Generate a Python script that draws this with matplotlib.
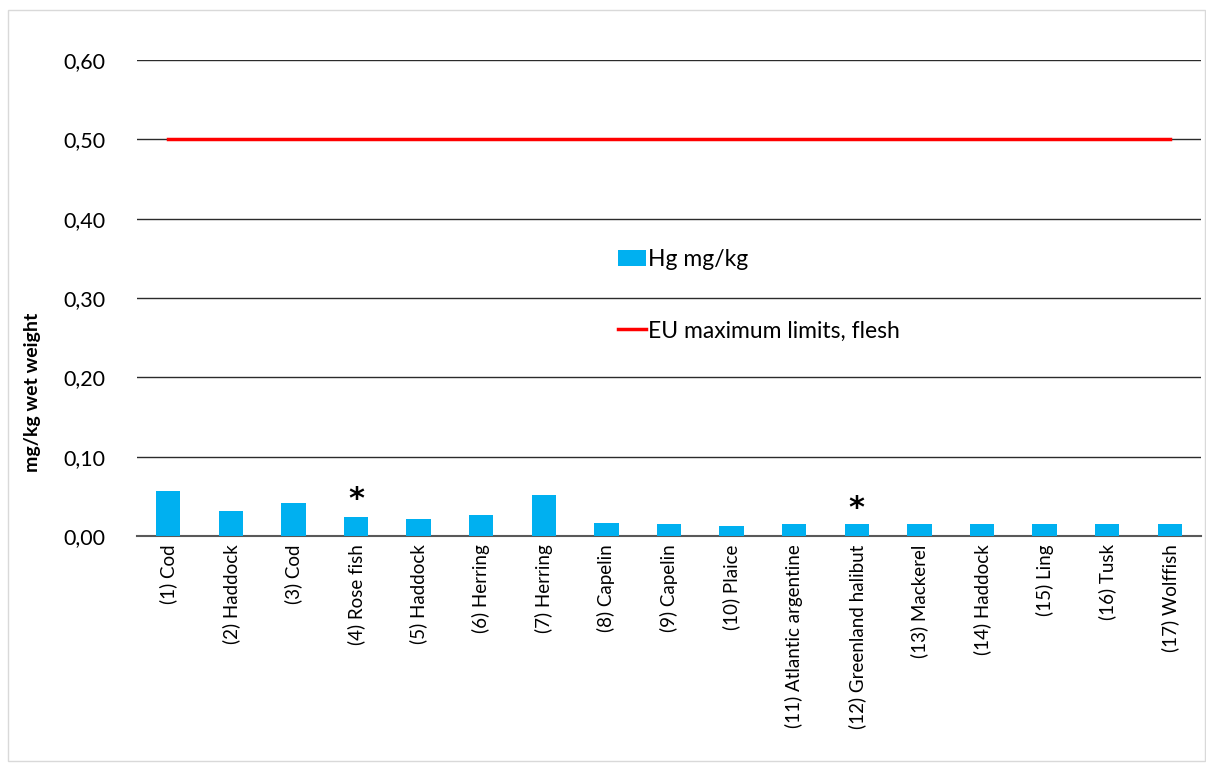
import matplotlib
matplotlib.use("Agg")
import matplotlib.pyplot as plt
from matplotlib.patches import Rectangle
from matplotlib.ticker import FuncFormatter

plt.rcParams['font.family'] = ['Lato', 'DejaVu Sans']

categories = ["(1) Cod", "(2) Haddock", "(3) Cod", "(4) Rose fish", "(5) Haddock",
              "(6) Herring", "(7) Herring", "(8) Capelin", "(9) Capelin", "(10) Plaice",
              "(11) Atlantic argentine", "(12) Greenland halibut", "(13) Mackerel",
              "(14) Haddock", "(15) Ling", "(16) Tusk", "(17) Wolffish"]
hg_values = [0.057, 0.032, 0.042, 0.024, 0.022, 0.027, 0.052, 0.016, 0.015, 0.012,
             0.015, 0.015, 0.015, 0.015, 0.015, 0.015, 0.015]
eu_limit = [0.50] * len(categories)
asterisk_idx = [3, 11]
asterisk_y = [0.046, 0.035]
yticks = [0.0, 0.1, 0.2, 0.3, 0.4, 0.5, 0.6]

W, H = 1206, 769
fig = plt.figure(figsize=(W / 100, H / 100), dpi=100)
fig.patches.append(Rectangle((8 / W, 1 - 761 / H), (1205 - 8) / W, (761 - 10) / H,
                             transform=fig.transFigure, fill=False,
                             edgecolor='#d9d9d9', linewidth=1))
ax = fig.add_axes([137 / W, 1 - 536 / H, (1201 - 137) / W, (536 - 60) / H])

x = list(range(len(categories)))
bars = ax.bar(x, hg_values, width=0.39, color='#00b0f0', label='Hg mg/kg', zorder=3)
line, = ax.plot(x, eu_limit, color='#ff0000', linewidth=2.5, label='EU maximum limits, flesh', zorder=4)

for i, yv in zip(asterisk_idx, asterisk_y):
    ax.text(i, yv, '*', ha='center', va='center', fontsize=22, fontweight='bold',
            family='DejaVu Sans', color='black')

ax.set_xlim(-0.5, len(categories) - 0.5)
ax.set_ylim(0, 0.6)
ax.set_yticks(yticks)
ax.yaxis.set_major_formatter(FuncFormatter(lambda v, p: f"{v:.2f}".replace('.', ',')))
ax.grid(axis='y', color='#2b2b2b', linewidth=1, zorder=0)
ax.set_axisbelow(True)
for s in ['top', 'right', 'left']:
    ax.spines[s].set_visible(False)
ax.spines['bottom'].set_color('#595959')
ax.spines['bottom'].set_linewidth(1.5)
ax.tick_params(axis='y', length=0, labelsize=15.5, pad=23, colors='black')
ax.tick_params(axis='x', length=0, pad=6)
ax.set_xticks(x)
ax.set_xticklabels(categories, rotation=90, fontsize=13.5)

fig.text(33 / W, 1 - 392 / H, 'mg/kg wet weight', rotation=90, ha='center', va='center',
         fontsize=14, fontweight='bold')

ax.legend(handles=[bars, line], loc='upper left', bbox_to_anchor=(618 / W, 1 - 249 / H),
          bbox_transform=fig.transFigure,
          frameon=False, fontsize=16.5, labelspacing=2.2, handlelength=1.2,
          handletextpad=0.12, borderpad=0, borderaxespad=0)

fig.savefig('out.png', dpi=100)
